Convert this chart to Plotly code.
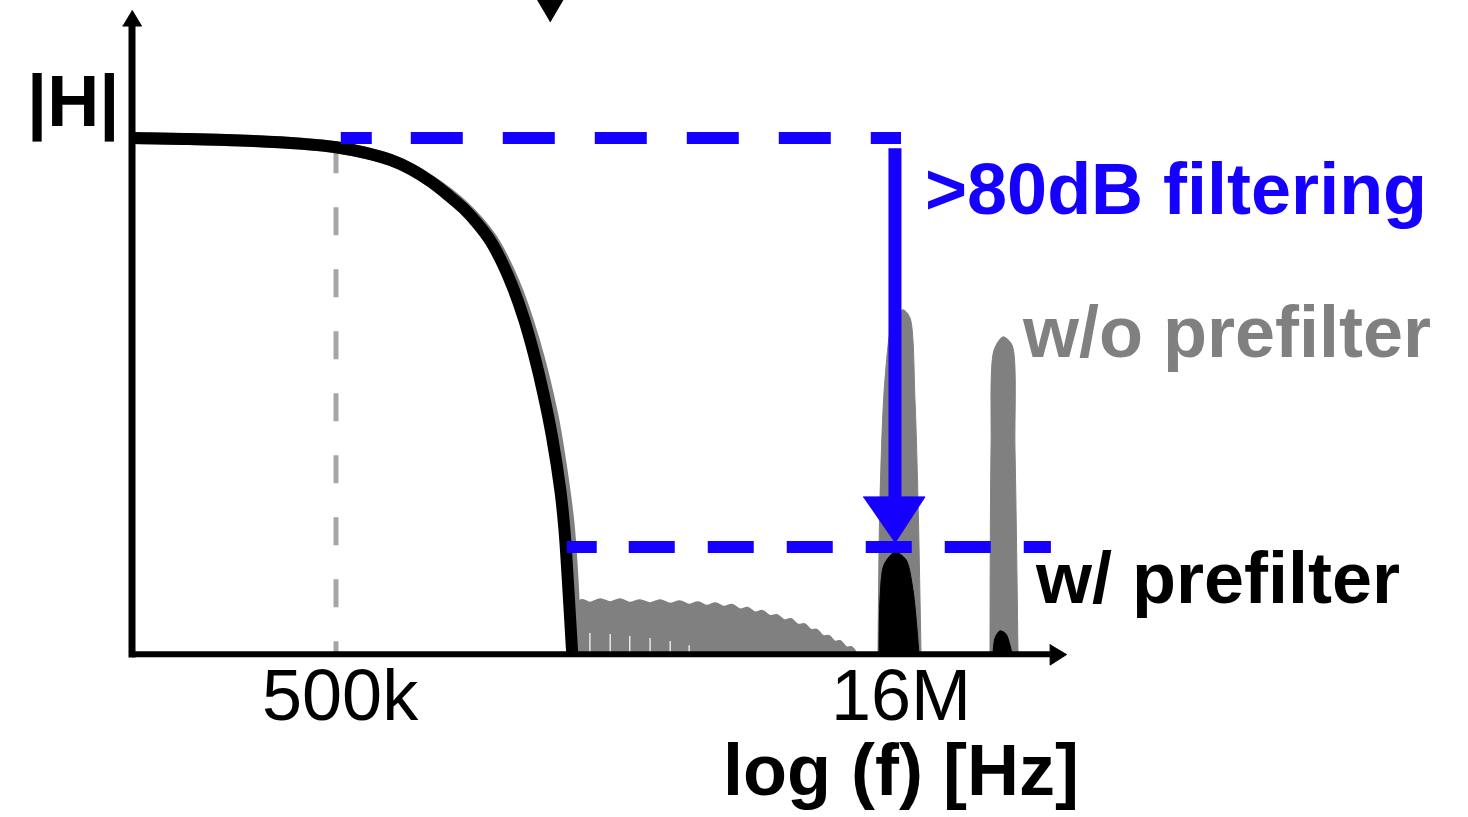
import numpy as np
import plotly.graph_objects as go

# ---------------- data (frequency in Hz, magnitude in dB) ----------------
# main low-pass response with prefilter (black)
resp_f_with = [142e3, 200e3, 300e3, 400e3, 500e3, 600e3, 700e3, 800e3, 900e3, 1.0e6,
               1.1e6, 1.2e6, 1.3e6, 1.4e6, 1.5e6, 1.6e6, 1.7e6, 1.8e6, 1.9e6, 2.0e6,
               2.05e6, 2.1e6, 2.15e6]
resp_db_with = [0.0, -0.2, -0.6, -1.1, -1.8, -2.9, -4.3, -6.2, -8.6, -11.2,
                -13.8, -16.8, -20.2, -24.6, -29.7, -35.6, -42.4, -50.0, -58.5, -69.0,
                -76.5, -88.0, -100.5]
# main response without prefilter (gray)
resp_f_without = [142e3, 300e3, 500e3, 700e3, 900e3, 1.1e6, 1.3e6, 1.5e6,
                  1.7e6, 1.9e6, 2.0e6, 2.1e6, 2.15e6, 2.2e6]
resp_db_without = [0.0, -0.6, -1.8, -4.3, -8.5, -13.4, -19.5, -28.3,
                   -39.8, -54.0, -63.5, -75.0, -85.0, -100.5]

# stop-band ripple lobes without prefilter (gray)
ripple_notch_f = [2.15e6, 2.40e6, 2.72e6, 3.07e6, 3.48e6, 3.94e6, 4.43e6, 4.95e6,
                  5.50e6, 6.07e6, 6.66e6, 7.30e6, 7.96e6, 8.68e6, 9.41e6, 10.13e6,
                  10.91e6, 11.68e6, 12.50e6]
ripple_edge_db = [-101.0, -90.9, -90.8, -90.9, -91.0, -91.1, -91.3, -91.5, -91.7,
                  -92.2, -92.8, -93.5, -94.3, -95.2, -96.2, -97.4, -98.5, -99.6, -101.0]
ripple_peak_f = [2.27e6, 2.56e6, 2.89e6, 3.27e6, 3.70e6, 4.18e6, 4.68e6, 5.21e6,
                 5.77e6, 6.35e6, 6.97e6, 7.62e6, 8.31e6, 9.04e6, 9.76e6, 10.51e6,
                 11.29e6, 12.08e6]
ripple_peak_db = [-90.4, -90.2, -90.2, -90.4, -90.4, -90.6, -90.8, -91.0, -91.3,
                  -91.9, -92.5, -93.3, -94.1, -95.1, -96.2, -97.4, -98.4, -99.6]
ripple_slit_f = [2.40e6, 2.72e6, 3.07e6, 3.48e6, 3.94e6, 4.43e6]
ripple_slit_top_db = [-96.8, -97.0, -97.4, -97.8, -98.4, -99.2]

# spurs at 16 MHz and ~32 MHz
spur16_gray_f = [14.23e6, 14.40e6, 14.85e6, 15.61e6, 16.61e6, 17.34e6, 17.88e6, 18.22e6, 18.56e6]
spur16_gray_db = [-101.0, -70.8, -47.3, -35.6, -33.6, -35.2, -51.2, -70.8, -101.0]
spur32_gray_f = [28.42e6, 28.60e6, 29.13e6, 30.80e6, 32.56e6, 33.17e6, 33.79e6]
spur32_gray_db = [-101.0, -61.0, -41.5, -38.9, -40.5, -61.0, -101.0]
spur16_black_f = [14.32e6, 14.40e6, 14.76e6, 15.80e6, 16.92e6, 17.66e6, 18.33e6]
spur16_black_db = [-101.0, -90.4, -83.5, -81.0, -82.5, -88.4, -101.0]
spur32_black_f = [28.95e6, 29.31e6, 30.23e6, 31.37e6, 32.16e6, 32.56e6]
spur32_black_db = [-101.0, -97.8, -96.4, -97.0, -99.2, -101.0]

# reference levels / markers
corner_f = 5e5                       # 500k marker
corner_db = [-1.4, -101.0]
top_level_f = [5.15e5, 1.64e7]       # 0 dB passband level
top_level_db = [0.0, 0.0]
bottom_level_f = [2.08e6, 4.14e7]    # -80 dB level
bottom_level_db = [-80.0, -80.0]
arrow_f = 15.8e6
arrow_db = [-2.0, -71.5]
arrow_head_f = [12.97e6, 19.02e6, 15.8e6]
arrow_head_db = [-70.2, -70.2, -79.2]

# axes
axis_f = [1.418e5, 41.2e6]
axis_floor_db = -101.0
axis_top_db = 21.9
xarrow_f = [41.2e6, 41.2e6, 45.7e6]
xarrow_db = [-99.0, -103.1, -101.0]
yarrow_f = [133.7e3, 150.4e3, 141.8e3]
yarrow_db = [21.9, 21.9, 25.0]
top_marker_f = [1.699e6, 2.070e6, 1.876e6]
top_marker_db = [28.0, 28.0, 22.7]

tick_vals = [5e5, 1.6e7]
tick_text = ["500k", "16M"]

# ---------------- style ----------------
W, H = 1468, 817
BLUE = "#1500ff"
GRAY = "#808080"
LGRAY = "#a6a6a6"
FONT = "Liberation Sans, Arial, sans-serif"
FS = 72

fig = go.Figure()

# 500k dashed marker
fig.add_trace(go.Scatter(x=[corner_f, corner_f], y=corner_db, mode="lines",
                         line=dict(color=LGRAY, width=5, dash="28px,34px")))
# gray main response
fig.add_trace(go.Scatter(x=resp_f_without, y=resp_db_without, mode="lines",
                         line=dict(color=GRAY, width=12, shape="spline", smoothing=1.0)))
# gray ripple lobes: baseline + scalloped top filled to it
fig.add_trace(go.Scatter(x=[ripple_notch_f[0], ripple_notch_f[-1]],
                         y=[axis_floor_db, axis_floor_db], mode="lines",
                         line=dict(color=GRAY, width=1)))
rx, ry = [], []
for i in range(len(ripple_peak_f)):
    rx += [ripple_notch_f[i], ripple_peak_f[i]]
    ry += [ripple_edge_db[i], ripple_peak_db[i]]
rx.append(ripple_notch_f[-1])
ry.append(ripple_edge_db[-1])
fig.add_trace(go.Scatter(x=rx, y=ry, mode="lines", fill="tonexty", fillcolor=GRAY,
                         line=dict(color=GRAY, width=2, shape="spline", smoothing=1.0)))
# white slits between lobes
sx, sy = [], []
for f, t in zip(ripple_slit_f, ripple_slit_top_db):
    sx += [f, f, None]
    sy += [axis_floor_db, t, None]
fig.add_trace(go.Scatter(x=sx, y=sy, mode="lines", line=dict(color="white", width=1.2)))
# gray spurs
for fx, fy in [(spur16_gray_f, spur16_gray_db), (spur32_gray_f, spur32_gray_db)]:
    fig.add_trace(go.Scatter(x=fx, y=fy, mode="lines", fill="toself", fillcolor=GRAY,
                             line=dict(color=GRAY, width=1, shape="spline", smoothing=0.8)))
# black main response
fig.add_trace(go.Scatter(x=resp_f_with, y=resp_db_with, mode="lines",
                         line=dict(color="black", width=12, shape="spline", smoothing=1.0)))
# black spurs
for fx, fy in [(spur16_black_f, spur16_black_db), (spur32_black_f, spur32_black_db)]:
    fig.add_trace(go.Scatter(x=fx, y=fy, mode="lines", fill="toself", fillcolor="black",
                             line=dict(color="black", width=1, shape="spline", smoothing=0.8)))
# axes
fig.add_trace(go.Scatter(x=axis_f, y=[axis_floor_db, axis_floor_db], mode="lines",
                         line=dict(color="black", width=6)))
fig.add_trace(go.Scatter(x=[axis_f[0], axis_f[0]], y=[axis_floor_db - 0.6, axis_top_db],
                         mode="lines", line=dict(color="black", width=7)))
for fx, fy in [(xarrow_f, xarrow_db), (yarrow_f, yarrow_db), (top_marker_f, top_marker_db)]:
    fig.add_trace(go.Scatter(x=fx, y=fy, mode="lines", fill="toself", fillcolor="black",
                             line=dict(color="black", width=1)))
# blue levels and arrow
fig.add_trace(go.Scatter(x=top_level_f, y=top_level_db, mode="lines",
                         line=dict(color=BLUE, width=12,
                                   dash="31px,39px,52px,40px,52px,40px,52px,40px,52px,40px,52px,40px,52px,40px,40px")))
fig.add_trace(go.Scatter(x=bottom_level_f, y=bottom_level_db, mode="lines",
                         line=dict(color=BLUE, width=12,
                                   dash="30px,32px,46px,33px,46px,33px,46px,33px,46px,33px,46px,33px,40px")))
fig.add_trace(go.Scatter(x=[arrow_f, arrow_f], y=arrow_db, mode="lines",
                         line=dict(color=BLUE, width=13)))
fig.add_trace(go.Scatter(x=arrow_head_f, y=arrow_head_db, mode="lines", fill="toself",
                         fillcolor=BLUE, line=dict(color=BLUE, width=1)))

# ---------------- text ----------------
def px(x):
    return x / W

def py(y):
    return 1 - y / H

ann = []
ann.append(dict(text="<b>|H|</b>", x=px(25), y=py(102), xanchor="left",
                font=dict(color="black")))
ann.append(dict(text="<b>>80dB filtering</b>", x=px(923), y=py(189), xanchor="left",
                font=dict(color=BLUE)))
ann.append(dict(text="<b>w/o prefilter</b>", x=px(1020), y=py(332), xanchor="left",
                font=dict(color=GRAY)))
ann.append(dict(text="<b>w/ prefilter</b>", x=px(1033), y=py(578), xanchor="left",
                font=dict(color="black")))
ann.append(dict(text="<b>log (f) [Hz]</b>", x=px(901), y=py(770), xanchor="center",
                font=dict(color="black")))
for a in ann:
    a.update(xref="paper", yref="paper", yanchor="middle", showarrow=False)
    a["font"].update(family=FONT, size=FS)
for v, t in zip(tick_vals, tick_text):
    ann.append(dict(text=t, x=np.log10(v), xref="x", y=py(695), yref="paper",
                    xanchor="center", yanchor="middle", xshift=4, showarrow=False,
                    font=dict(family=FONT, size=FS, color="black")))

# pixel-calibrated axis ranges
px_per_decade = 561 / (np.log10(1.6e7) - np.log10(5e5))
x0 = np.log10(5e5) - 336 / px_per_decade
x1 = np.log10(5e5) + (W - 336) / px_per_decade
px_per_db = 409 / 80.0
y1 = 138 / px_per_db
y0 = (138 - H) / px_per_db

fig.update_layout(
    width=W, height=H, margin=dict(l=0, r=0, t=0, b=0),
    paper_bgcolor="white", plot_bgcolor="white", showlegend=False,
    hovermode=False,
    xaxis=dict(type="log", range=[x0, x1], visible=False, fixedrange=True),
    yaxis=dict(range=[y0, y1], visible=False, fixedrange=True),
    annotations=ann,
)

fig.write_html("out.html", config={"displayModeBar": False},
               post_script="document.body.style.margin='0px';")
